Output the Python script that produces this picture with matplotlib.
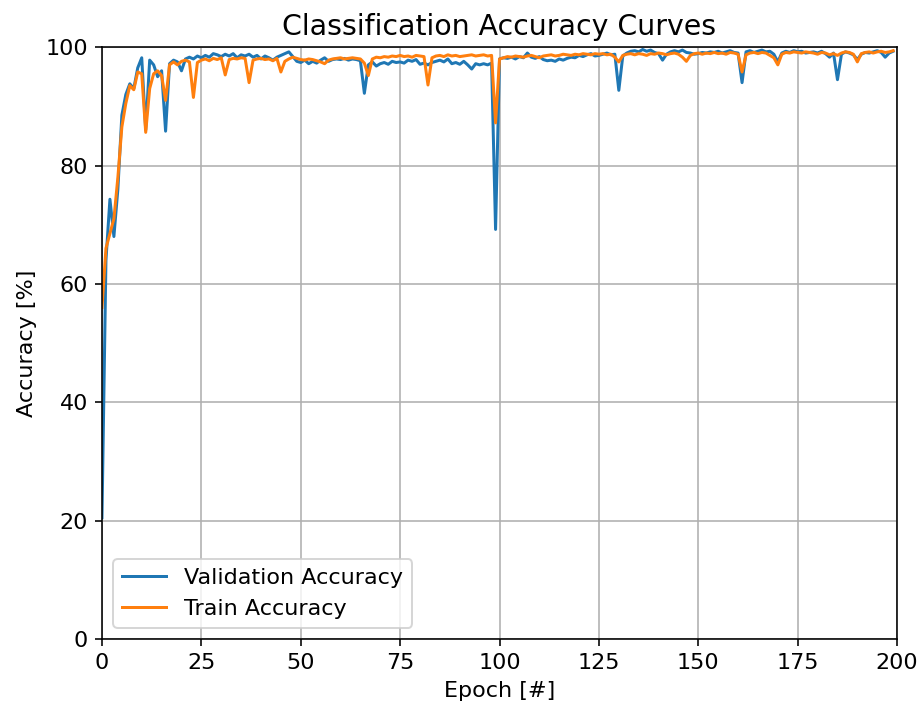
import matplotlib
matplotlib.use("Agg")
import matplotlib.pyplot as plt

# Accuracy per epoch (%), epochs 0..199
val_acc = [
    20.5, 64.0, 74.3, 68.0, 76.0, 88.5, 92.0, 93.8, 93.0, 96.5,
    98.2, 86.0, 97.8, 97.0, 95.0, 96.0, 85.8, 97.2, 97.8, 97.5,
    96.0, 98.0, 98.3, 98.0, 98.5, 98.2, 98.6, 98.3, 98.9, 98.7,
    98.4, 98.8, 98.5, 98.9, 98.2, 98.7, 98.5, 98.8, 98.3, 98.6,
    98.0, 98.5, 98.2, 97.8, 98.3, 98.6, 98.9, 99.2, 98.4, 97.6,
    97.4, 97.8, 97.2, 97.6, 97.3, 97.8, 98.2, 97.6, 97.9, 98.0,
    97.9, 98.1, 97.8, 98.0, 97.9, 97.7, 92.2, 97.0, 97.5, 96.8,
    97.2, 97.4, 97.1, 97.6, 97.4, 97.5, 97.3, 97.8, 97.6, 97.9,
    97.1, 97.3, 97.0, 97.4, 97.6, 97.8, 97.5, 98.0, 97.2, 97.4,
    97.1, 97.6, 97.0, 96.3, 97.2, 97.0, 97.2, 97.0, 97.3, 69.2,
    98.0, 98.2, 98.1, 98.3, 98.0, 98.4, 98.2, 99.0, 98.3, 98.1,
    98.4, 97.9, 97.7, 97.8, 97.6, 98.0, 97.8, 98.1, 98.3, 98.2,
    98.6, 98.4, 98.7, 98.9, 98.5, 98.6, 98.8, 99.0, 98.7, 98.8,
    92.7, 98.5, 99.0, 99.3, 99.4, 99.2, 99.6, 99.3, 99.5, 99.1,
    98.9, 97.8, 98.8, 99.2, 99.4, 99.2, 99.5, 99.1, 99.0, 98.8,
    98.9, 99.1, 99.0, 99.2, 99.1, 99.3, 99.0, 99.2, 99.4, 99.1,
    99.0, 94.0, 99.2, 99.4, 99.1, 99.3, 99.5, 99.2, 99.3, 98.8,
    97.5, 99.0, 99.3, 99.1, 99.4, 99.2, 99.3, 99.0, 99.1, 99.2,
    99.0, 99.3, 98.9, 98.3, 99.0, 94.5, 98.8, 99.2, 99.0, 98.7,
    97.9, 98.8, 99.1, 99.0, 99.2, 99.4, 99.1, 98.3, 99.0, 99.3,
]

train_acc = [
    56.0, 66.0, 68.5, 71.0, 78.0, 86.5, 90.5, 93.5, 92.8, 95.8,
    95.5, 85.6, 93.0, 95.5, 96.0, 95.2, 91.0, 97.0, 97.5, 97.0,
    97.6, 97.8, 97.5, 91.5, 97.4, 97.8, 98.0, 97.7, 98.1, 97.9,
    98.2, 95.3, 97.9, 98.1, 98.0, 98.2, 98.1, 94.0, 97.8, 98.0,
    98.1, 97.9, 98.0, 97.7, 98.1, 95.8, 97.6, 98.0, 98.3, 98.1,
    97.9, 97.8, 98.0, 97.9, 97.7, 97.5, 97.2, 97.8, 98.0, 98.1,
    98.2, 98.0, 98.1, 98.2, 98.1, 98.0, 97.3, 95.2, 98.0, 98.3,
    98.2, 98.4, 98.3, 98.5, 98.4, 98.6, 98.4, 98.5, 98.3, 98.6,
    98.5, 98.4, 93.6, 98.2, 98.5, 98.6, 98.4, 98.7, 98.5, 98.6,
    98.4, 98.5, 98.6, 98.7, 98.5, 98.6, 98.7, 98.5, 98.6, 87.2,
    98.0, 98.2, 98.4, 98.3, 98.5, 98.4, 98.3, 98.5, 98.6, 98.4,
    98.2, 98.5, 98.6, 98.7, 98.5, 98.6, 98.8, 98.7, 98.6, 98.8,
    98.7, 98.9, 98.8, 98.7, 98.9, 98.8, 98.9, 98.7, 98.8, 98.3,
    97.5, 98.6, 98.8, 98.9, 98.7, 98.9, 98.8, 98.6, 98.9, 98.8,
    99.0, 98.9, 98.7, 98.9, 99.0, 98.8, 98.3, 97.6, 98.6, 98.9,
    99.0, 98.8, 99.0, 98.9, 99.1, 98.9, 99.0, 98.8, 99.1, 99.0,
    98.8, 95.8, 98.7, 99.0, 99.1, 98.9, 99.1, 99.0, 98.6, 98.2,
    97.0, 98.8, 99.1, 99.0, 99.2, 99.1, 99.0, 99.2, 99.1, 99.0,
    98.8, 99.1, 99.0, 98.7, 98.9, 98.6, 99.0, 99.2, 99.1, 98.8,
    97.5, 98.9, 99.1, 99.2, 99.0, 99.2, 99.3, 99.1, 99.2, 99.4,
]

epochs = list(range(len(val_acc)))

plt.rcParams['font.size'] = 11.1

fig = plt.figure(figsize=(922 / 144, 714 / 144), dpi=144)
plt.subplots_adjust(left=0.1106, right=0.973, top=0.934, bottom=0.105)
plt.plot(epochs, val_acc, label="Validation Accuracy")
plt.plot(epochs, train_acc, label="Train Accuracy")
plt.title("Classification Accuracy Curves", fontsize=14.2)
plt.xlabel("Epoch [#]")
plt.ylabel("Accuracy [%]")
plt.xlim(0, 200)
plt.ylim(0, 100)
plt.grid(True)
plt.legend(loc="lower left")
plt.savefig("out.png", dpi=144)
